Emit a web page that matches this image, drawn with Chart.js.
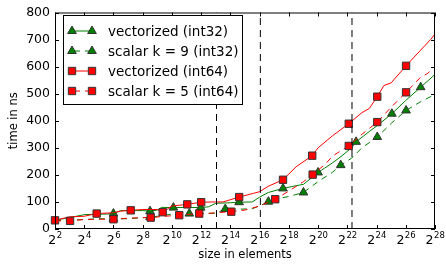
<!DOCTYPE html>
<html>
<head>
<meta charset="utf-8">
<script src="https://cdn.jsdelivr.net/npm/chart.js@4/dist/chart.umd.min.js"></script>
<style>
  html, body { margin: 0; padding: 0; background: #fff; }
  #wrap { width: 446px; height: 266px; }
</style>
</head>
<body>
<div id="wrap"><canvas id="chart"></canvas></div>
<script>
// x values are log2(size in elements)
const vec32X = [2, 3, 4, 5, 5.5, 6, 6.5, 7, 8, 8.5, 9, 9.3, 10.1, 11, 11.97, 12.5, 13, 14, 14.6, 15.5, 16, 16.6, 17.6, 18.5, 19, 20, 21, 21.5, 22.3, 22.6, 23.5, 24, 25.05, 26, 27.02, 28];
const vec32Y = [33, 42, 53, 55, 55, 57, 68, 68, 68, 66, 70, 80, 79, 80, 79, 82, 95, 97, 99, 100, 118, 135, 150, 160, 165, 209, 245, 265, 300, 322, 360, 380, 426, 475, 524, 571];
const vec32Marks = [6, 8.5, 10.1, 11.97, 14.6, 17.6, 20, 22.6, 25.05, 27.02];

const sc32X = [2, 3, 4, 5, 6, 7, 8, 8.5, 9, 10, 11.19, 12, 13, 13.65, 14.5, 15.5, 16, 16.6, 17.5, 18, 19, 20, 21, 21.55, 22.3, 23, 24.05, 25, 26.02, 27, 28];
const sc32Y = [30, 33, 35, 38, 37, 38, 42, 44, 47, 55, 57, 57, 58, 74, 73, 75, 85, 101, 115, 120, 135, 175, 210, 236, 262, 300, 340, 390, 438, 470, 497];
const sc32Marks = [6, 8.5, 11.19, 13.65, 16.6, 19, 21.55, 24.05, 26.02];

const vec64X = [2, 3, 4, 4.85, 6, 6.5, 7.18, 8, 9, 9.37, 10, 11.05, 12, 13, 13.5, 14.6, 15.6, 16, 16.6, 17.6, 18.5, 19.6, 20, 21, 22.1, 23, 23.5, 24.05, 24.5, 25, 26.02, 27, 27.7, 28];
const vec64Y = [32, 45, 47, 57, 60, 66, 69, 72, 72, 62, 85, 91, 99, 100, 100, 118, 132, 138, 158, 182, 230, 271, 300, 345, 389, 430, 445, 489, 530, 540, 603, 660, 700, 721];
const vec64Marks = [2, 4.85, 7.18, 9.37, 11.05, 12, 14.6, 17.6, 19.6, 22.1, 24.05, 26.02];

const sc64X = [2, 3.03, 4, 5, 6, 7, 8, 8.55, 9.5, 10.5, 11.87, 12.5, 13, 14.06, 15, 16, 17.07, 18, 19, 19.63, 20.5, 21, 22.1, 23, 24.05, 25, 26.02, 27, 27.5, 28];
const sc64Y = [30, 30, 35, 36, 36, 40, 42, 42, 47, 51, 57, 58, 60, 64, 70, 85, 110, 140, 175, 201, 240, 270, 307, 350, 395, 450, 505, 560, 575, 602];
const sc64Marks = [3.03, 6, 8.55, 10.5, 11.87, 14.06, 17.07, 19.63, 22.1, 24.05, 26.02];

// cache boundaries (log2 of elements)
const vlineX = [13.05, 16.05, 22.32];

const xTickExps = [2, 4, 6, 8, 10, 12, 14, 16, 18, 20, 22, 24, 26, 28];
const yTicks = [0, 100, 200, 300, 400, 500, 600, 700, 800];

const FONT = 'DejaVu Sans';
Chart.defaults.font.family = FONT;

const markRadius = style => style === 'rect' ? 5.2 : 5;

function series(label, xs, ys, marks, color, style, dashed, order) {
  return {
    label: label,
    data: xs.map((x, i) => ({ x: x, y: ys[i] })),
    borderColor: color,
    backgroundColor: color,
    borderWidth: 1,
    borderDash: dashed ? [6, 5] : [],
    pointStyle: style,
    pointRadius: xs.map(x => marks.includes(x) ? markRadius(style) : 0),
    pointBackgroundColor: color,
    pointBorderColor: '#333',
    pointBorderWidth: 1,
    pointHoverRadius: 0,
    tension: 0,
    clip: false,
    order: order,
    isSeries: true
  };
}

const datasets = [
  series('vectorized (int32)', vec32X, vec32Y, vec32Marks, '#008000', 'triangle', false, 4),
  series('scalar k = 9 (int32)', sc32X, sc32Y, sc32Marks, '#008000', 'triangle', true, 3),
  series('vectorized (int64)', vec64X, vec64Y, vec64Marks, '#ff0000', 'rect', false, 2),
  series('scalar k = 5 (int64)', sc64X, sc64Y, sc64Marks, '#ff0000', 'rect', true, 1)
];
vlineX.forEach(v => {
  datasets.push({
    label: '',
    data: [{ x: v, y: 0 }, { x: v, y: 800 }],
    borderColor: '#000',
    borderWidth: 1,
    borderDash: [7, 5],
    pointRadius: 0,
    pointHoverRadius: 0,
    order: 0
  });
});

const framePlugin = {
  id: 'frame',
  afterDraw(chart) {
    const ctx = chart.ctx;
    const a = chart.chartArea;
    const xs = chart.scales.x, ys = chart.scales.y;
    ctx.save();
    ctx.strokeStyle = '#000';
    ctx.lineWidth = 1;
    ctx.strokeRect(a.left + 0.5, a.top + 0.5, a.right - a.left - 1, a.bottom - a.top - 1);
    ctx.beginPath();
    yTicks.forEach(v => {
      const y = Math.round(ys.getPixelForValue(v)) + 0.5;
      ctx.moveTo(a.left, y); ctx.lineTo(a.left + 4, y);
      ctx.moveTo(a.right, y); ctx.lineTo(a.right - 4, y);
    });
    xTickExps.forEach(e => {
      const x = Math.round(xs.getPixelForValue(e)) + 0.5;
      ctx.moveTo(x, a.bottom); ctx.lineTo(x, a.bottom - 4);
      ctx.moveTo(x, a.top); ctx.lineTo(x, a.top + 4);
    });
    ctx.stroke();

    // x tick labels: 2 with superscript exponent
    ctx.fillStyle = '#000';
    ctx.textBaseline = 'alphabetic';
    ctx.textAlign = 'left';
    xTickExps.forEach(e => {
      const x = xs.getPixelForValue(e);
      ctx.font = '12.5px "' + FONT + '"';
      const wb = ctx.measureText('2').width;
      ctx.font = '8.5px "' + FONT + '"';
      const we = ctx.measureText(String(e)).width;
      const x0 = x - (wb + we) / 2;
      ctx.font = '12.5px "' + FONT + '"';
      ctx.fillText('2', x0, 244);
      ctx.font = '8.5px "' + FONT + '"';
      ctx.fillText(String(e), x0 + wb + 0.5, 237.5);
    });

    // legend
    const lx = 63, ly = 15, lw = 179, lh = 89;
    ctx.fillStyle = '#fff';
    ctx.fillRect(lx, ly, lw, lh);
    ctx.strokeRect(lx + 0.5, ly + 0.5, lw, lh);
    chart.data.datasets.filter(d => d.isSeries).forEach((d, i) => {
      const y = 31 + i * 20;
      ctx.save();
      ctx.strokeStyle = d.borderColor;
      ctx.lineWidth = 1;
      ctx.setLineDash(d.borderDash);
      ctx.lineDashOffset = -2;
      ctx.beginPath();
      ctx.moveTo(72, y); ctx.lineTo(92, y);
      ctx.stroke();
      ctx.restore();
      const opts = { pointStyle: d.pointStyle, radius: markRadius(d.pointStyle), rotation: 0, borderWidth: 1 };
      [72, 92].forEach(px => {
        ctx.save();
        ctx.fillStyle = d.pointBackgroundColor;
        ctx.strokeStyle = d.pointBorderColor;
        ctx.lineWidth = 1;
        Chart.helpers.drawPoint(ctx, opts, px, y);
        ctx.restore();
      });
      ctx.fillStyle = '#000';
      ctx.font = '13.5px "' + FONT + '"';
      ctx.textBaseline = 'middle';
      ctx.fillText(d.label, 108, y + 1);
    });
    ctx.restore();
  }
};

new Chart(document.getElementById('chart'), {
  type: 'line',
  data: { datasets: datasets },
  options: {
    responsive: true,
    maintainAspectRatio: false,
    animation: false,
    events: [],
    layout: { padding: { top: 12, right: 11, left: 0, bottom: 0 } },
    plugins: { legend: { display: false }, tooltip: { enabled: false } },
    scales: {
      x: {
        type: 'linear',
        min: 2,
        max: 28,
        grid: { display: false, drawTicks: false },
        border: { display: false },
        ticks: { display: false },
        title: { display: true, text: 'size in elements', color: '#000', font: { size: 11.5 }, padding: { top: 4, bottom: 4 } },
        afterFit(s) { s.height = 37; }
      },
      y: {
        min: 0,
        max: 800,
        grid: { display: false, drawTicks: false },
        border: { display: false },
        ticks: { stepSize: 100, color: '#000', font: { size: 12.5 }, padding: 5 },
        title: { display: true, text: 'time in ns', color: '#000', font: { size: 11.5 }, padding: { top: 7, bottom: 4 } },
        afterFit(s) { s.width = 55; }
      }
    }
  },
  plugins: [framePlugin]
});
</script>
</body>
</html>
